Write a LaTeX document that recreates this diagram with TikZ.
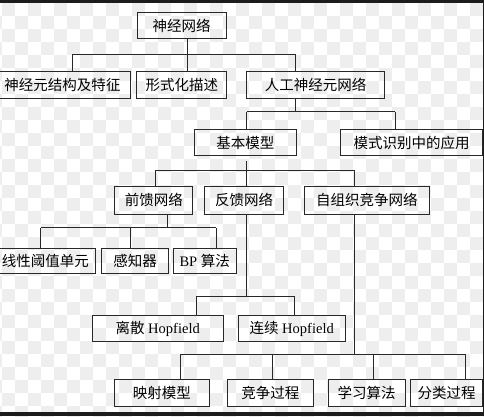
\documentclass[tikz,border=0pt]{standalone}
\usepackage{fontspec}
\setmainfont{Liberation Serif}
\newfontfamily\cjk{Noto Sans CJK SC}
\definecolor{checker}{RGB}{238,238,238}
\definecolor{framec}{RGB}{28,28,28}
\definecolor{linec}{RGB}{40,40,40}
\begin{document}
\begin{tikzpicture}[x=1pt,y=-1pt,
  box/.style={draw=linec,line width=1pt,inner sep=0pt,font=\fontsize{14.5}{16}\selectfont},
  conn/.style={draw=linec,line width=1pt}]
\useasboundingbox (0,0) rectangle (484,416);
% background checkerboard
\begin{scope}
\clip (0,0) rectangle (484,416);
\fill[white] (0,0) rectangle (484,416);
\foreach \i in {-1,...,37}{\foreach \j in {-1,...,32}{
  \pgfmathtruncatemacro\s{mod(\i+\j+2,2)}
  \ifnum\s=0 \fill[checker] (2+13*\i,3.3+13*\j) rectangle ++(13,13);\fi}}
\end{scope}
% boxes
\node[box,minimum width=89pt,minimum height=25.6pt] (root) at (181.5,25.5) {{\cjk 神经网络}};
\node[box,minimum width=135pt,minimum height=26.6pt] (n2) at (62.5,85) {{\cjk 神经元结构及特征}};
\node[box,minimum width=89.7pt,minimum height=26.6pt] (n3) at (181.8,85) {{\cjk 形式化描述}};
\node[box,minimum width=137.6pt,minimum height=26.6pt] (n4) at (315.5,85) {{\cjk 人工神经元网络}};
\node[box,minimum width=102.2pt,minimum height=26.4pt] (n5) at (245.4,142.5) {{\cjk 基本模型}};
\node[box,minimum width=141.6pt,minimum height=26.4pt] (n6) at (411.5,142.5) {{\cjk 模式识别中的应用}};
\node[box,minimum width=77.7pt,minimum height=28pt] (n7) at (153.8,200.2) {{\cjk 前馈网络}};
\node[box,minimum width=78.6pt,minimum height=28pt] (n8) at (244,200.2) {{\cjk 反馈网络}};
\node[box,minimum width=125pt,minimum height=28pt] (n9) at (366.8,200.2) {{\cjk 自组织竞争网络}};
\node[box,minimum width=100.7pt,minimum height=25pt] (n10) at (45.3,260.8) {{\cjk 线性阈值单元}};
\node[box,minimum width=66.6pt,minimum height=25pt] (n11) at (135,260.8) {{\cjk 感知器}};
\node[box,minimum width=62.7pt,minimum height=25pt] (n12) at (204.7,260.8) {BP {\cjk 算法}};
\node[box,minimum width=131.3pt,minimum height=26pt] (n13) at (157.7,328.7) {{\cjk 离散} Hopfield};
\node[box,minimum width=106.7pt,minimum height=26pt] (n14) at (291.7,328.7) {{\cjk 连续} Hopfield};
\node[box,minimum width=95pt,minimum height=27.4pt] (n15) at (161.8,393) {{\cjk 映射模型}};
\node[box,minimum width=86pt,minimum height=27.4pt] (n16) at (270.3,393) {{\cjk 竞争过程}};
\node[box,minimum width=76.7pt,minimum height=27.4pt] (n17) at (366.7,393) {{\cjk 学习算法}};
\node[box,minimum width=71.6pt,minimum height=27.4pt] (n18) at (446.5,393) {{\cjk 分类过程}};
% bus coordinates
\coordinate (j1) at (187.3,54.3); \coordinate (j1l) at (72.7,54.3); \coordinate (j1r) at (295.7,54.3);
\coordinate (j2) at (295.7,111.7); \coordinate (j2l) at (246.7,111.7); \coordinate (j2r) at (395,111.7);
\coordinate (j3) at (246,170); \coordinate (j3l) at (155.7,170); \coordinate (j3r) at (354,170);
\coordinate (j4) at (167.3,227.7); \coordinate (j4l) at (40.7,227.7); \coordinate (j4m) at (130,227.7); \coordinate (j4r) at (216,227.7);
\coordinate (j5) at (246,296.7); \coordinate (j5l) at (196,296.7); \coordinate (j5r) at (294.7,296.7);
\coordinate (j6) at (354,354.3); \coordinate (j6a) at (180,354.3); \coordinate (j6b) at (272.3,354.3); \coordinate (j6c) at (373.3,354.3); \coordinate (j6d) at (465,354.3);
% connectors
\draw[conn] (root.south -| j1) -- (j1);
\draw[conn] (j1l) -- (j1r);
\draw[conn] (j1l) -- (n2.north -| j1l);
\draw[conn] (j1) -- (n3.north -| j1);
\draw[conn] (j1r) -- (n4.north -| j1r);
\draw[conn] (n4.south -| j2) -- (j2);
\draw[conn] (j2l) -- (j2r);
\draw[conn] (j2l) -- (n5.north -| j2l);
\draw[conn] (j2r) -- (n6.north -| j2r);
\draw[conn,shorten <=5pt] (n5.south -| j3) -- (j3);
\draw[conn] (j3l) -- (j3r);
\draw[conn] (j3l) -- (n7.north -| j3l);
\draw[conn] (j3) -- (n8.north -| j3);
\draw[conn] (j3r) -- (n9.north -| j3r);
\draw[conn] (n7.south -| j4) -- (j4);
\draw[conn] (j4l) -- (j4r);
\draw[conn] (j4l) -- (n10.north -| j4l);
\draw[conn] (j4m) -- (n11.north -| j4m);
\draw[conn] (j4r) -- (n12.north -| j4r);
\draw[conn] (n8.south -| j5) -- (j5);
\draw[conn] (j5l) -- (j5r);
\draw[conn] (j5l) -- (n13.north -| j5l);
\draw[conn] (j5r) -- (n14.north -| j5r);
\draw[conn] (n9.south -| j6) -- (j6);
\draw[conn] (j6a) -- (j6d);
\draw[conn] (j6a) -- (n15.north -| j6a);
\draw[conn] (j6b) -- (n16.north -| j6b);
\draw[conn] (j6c) -- (n17.north -| j6c);
\draw[conn] (j6d) -- (n18.north -| j6d);
% dark frame
\fill[framec] (0,0) rectangle (484,3.4);
\fill[framec] (482.8,0) rectangle (484,416);
\fill[framec] (0,412) rectangle (484,416);
\end{tikzpicture}
\end{document}
